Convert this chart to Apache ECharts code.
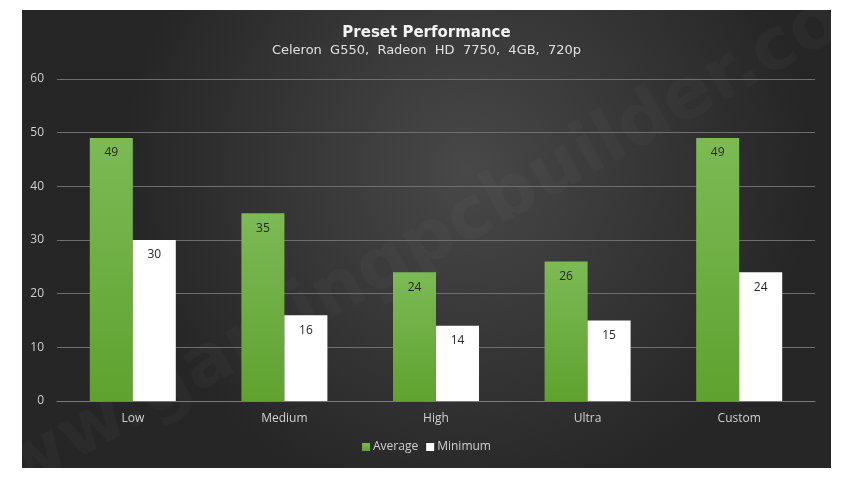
<!DOCTYPE html>
<html>
<head>
<meta charset="utf-8">
<script src="https://cdn.jsdelivr.net/npm/echarts@6/dist/echarts.min.js"></script>
<style>
html,body{margin:0;padding:0;background:#fff;}
#c{width:853px;height:479px;}
</style>
</head>
<body>
<div id="c"></div>
<script>
var categories = ['Low', 'Medium', 'High', 'Ultra', 'Custom'];
var averageValues = [49, 35, 24, 26, 49];
var minimumValues = [30, 16, 14, 15, 24];
var titleText = 'Preset Performance';
var subtitleText = 'Celeron  G550,  Radeon  HD  7750,  4GB,  720p';

var chart = echarts.init(document.getElementById('c'));
var labelStyle = {
  show: true,
  position: 'insideTop',
  distance: 9,
  color: '#262626',
  fontSize: 12,
  fontFamily: 'Open Sans'
};
chart.setOption({
  backgroundColor: '#ffffff',
  graphic: [
    {
      type: 'rect',
      z: -10,
      silent: true,
      shape: {x: 22, y: 10, width: 809, height: 458},
      style: {
        fill: {
          type: 'radial', x: 0.55, y: 0.35, r: 0.75,
          colorStops: [
            {offset: 0, color: '#484848'},
            {offset: 1, color: '#262626'}
          ]
        }
      }
    },
    {
      type: 'text',
      z: -5,
      silent: true,
      x: 425, y: 245,
      rotation: Math.PI * 29 / 180,
      style: {
        text: 'www.gamingpcbuilder.com',
        fill: 'rgba(255,255,255,0.022)',
        font: 'bold 72px "DejaVu Sans"',
        align: 'center',
        verticalAlign: 'middle'
      }
    }
  ],
  title: {
    text: titleText,
    subtext: subtitleText,
    left: 'center',
    top: 21,
    itemGap: 3,
    textStyle: {color: '#f2f2f2', fontSize: 15, fontWeight: 'bold', fontFamily: 'DejaVu Sans'},
    subtextStyle: {color: '#e0e0e0', fontSize: 13, fontFamily: 'DejaVu Sans'}
  },
  legend: {
    data: ['Average', 'Minimum'],
    bottom: 21,
    left: 'center',
    itemWidth: 8,
    itemHeight: 8,
    itemGap: 8,
    icon: 'rect',
    textStyle: {color: '#d0d0d0', fontSize: 12, fontFamily: 'Open Sans', padding: [0, 0, 0, -2]}
  },
  grid: {left: 57, right: 38, top: 79, bottom: 78, containLabel: false},
  xAxis: {
    type: 'category',
    data: categories,
    axisLine: {lineStyle: {color: '#7a7a7a', width: 1}},
    axisTick: {show: false},
    axisLabel: {color: '#d0d0d0', fontSize: 12, fontFamily: 'Open Sans', margin: 12}
  },
  yAxis: {
    type: 'value',
    min: 0, max: 60, interval: 10,
    axisLine: {show: false},
    axisTick: {show: false},
    axisLabel: {color: '#d0d0d0', fontSize: 12, fontFamily: 'Open Sans', margin: 13},
    splitLine: {lineStyle: {color: '#6e6e6e', width: 1}}
  },
  series: [
    {
      name: 'Average',
      type: 'bar',
      data: averageValues,
      barWidth: 43,
      barGap: '0%',
      itemStyle: {
        color: {
          type: 'linear', x: 0, y: 0, x2: 0, y2: 1,
          colorStops: [
            {offset: 0, color: '#7cba55'},
            {offset: 1, color: '#5fa22f'}
          ]
        }
      },
      label: labelStyle
    },
    {
      name: 'Minimum',
      type: 'bar',
      data: minimumValues,
      barWidth: 43,
      itemStyle: {color: '#ffffff'},
      label: labelStyle
    }
  ]
});
</script>
</body>
</html>
